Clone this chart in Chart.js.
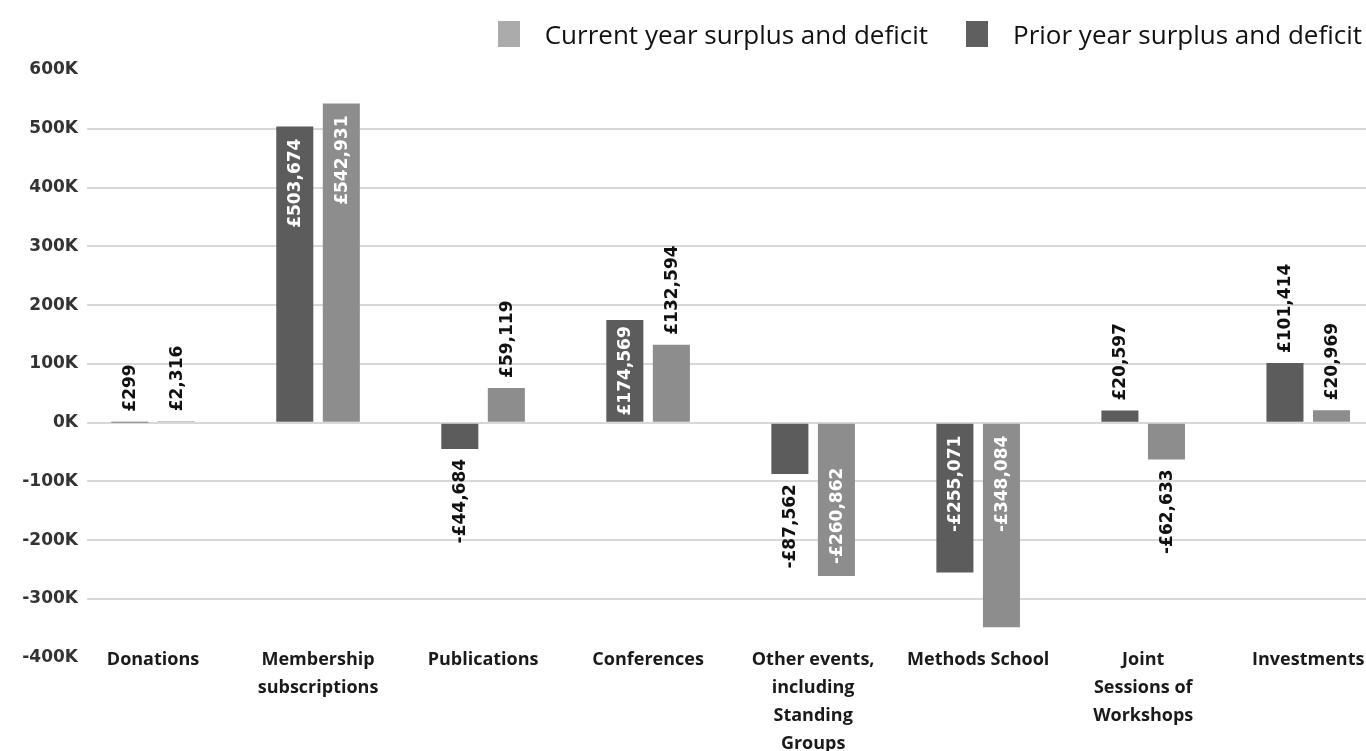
<!DOCTYPE html>
<html lang="en">
<head>
<meta charset="utf-8">
<title>Surplus and deficit by activity</title>
<script src="https://cdn.jsdelivr.net/npm/chart.js@4.4.1/dist/chart.umd.min.js"></script>
<style>
  html, body { margin: 0; padding: 0; background: #fff; overflow: hidden; }
  .wrap { position: relative; width: 1366px; height: 751px; overflow: hidden; }
  #legend {
    position: absolute; top: 16px; right: 4px; z-index: 2;
    display: flex; align-items: center;
    font-family: "Open Sans", sans-serif; font-size: 26px; color: #111;
  }
  #legend .item { display: flex; align-items: center; margin-left: 38px; }
  #legend .swatch { width: 22px; height: 26px; margin-right: 25px; }
  #chart { position: absolute; left: 0; top: 0; }
</style>
</head>
<body>
<div class="wrap">
  <div id="legend"></div>
  <canvas id="chart" width="1366" height="758"></canvas>
</div>

<script>
  // ---------- Data ----------
  const categories = [
    ["Donations"],
    ["Membership", "subscriptions"],
    ["Publications"],
    ["Conferences"],
    ["Other events,", "including", "Standing", "Groups"],
    ["Methods School"],
    ["Joint", "Sessions of", "Workshops"],
    ["Investments"],
  ];
  const priorYear   = [299, 503674, -44684, 174569, -87562, -255071, 20597, 101414];
  const currentYear = [2316, 542931, 59119, 132594, -260862, -348084, -62633, 20969];
  const yTickValues = [600000, 500000, 400000, 300000, 200000, 100000, 0, -100000, -200000, -300000, -400000];

  // ---------- Helpers ----------
  const fmtPounds = (v) => (v < 0 ? "-£" : "£") + Math.abs(v).toLocaleString("en-GB");
  const toPoints = (arr) => arr.map((y, x) => ({ x, y }));

  // labels inside these negative bars sit next to the zero line instead of the bar end
  const labelAtBase = ["Methods School"];

  const series = [
    { label: "Prior year surplus and deficit",   values: priorYear,   bar: "#5c5c5c", swatch: "#5f5f5f" },
    { label: "Current year surplus and deficit", values: currentYear, bar: "#8d8d8d", swatch: "#ababab" },
  ];

  // ---------- Rotated value labels ----------
  const barValueLabels = {
    id: "barValueLabels",
    afterDatasetsDraw(chart) {
      const { ctx } = chart;
      const inset = 12, fitMargin = 6, gap = 10;
      ctx.save();
      ctx.font = 'bold 17px "DejaVu Sans", sans-serif';
      ctx.textBaseline = "middle";
      ctx.textAlign = "left";

      chart.data.datasets.forEach((ds, di) => {
        const meta = chart.getDatasetMeta(di);
        meta.data.forEach((bar, i) => {
          const value = ds.data[i].y;
          const text = fmtPounds(value);
          const w = ctx.measureText(text).width;
          const top = Math.min(bar.y, bar.base);
          const bottom = Math.max(bar.y, bar.base);
          const len = bottom - top;
          let start; // screen y where the rotated text begins (its lower end)

          if (w + 2 * fitMargin <= len) {
            const pad = Math.min(inset, (len - w) / 2);
            ctx.fillStyle = "#ffffff";
            if (value < 0 && !labelAtBase.includes(categories[i].join(" "))) start = bottom - pad;
            else start = top + pad + w;
          } else {
            ctx.fillStyle = "#111111";
            start = value >= 0 ? top - gap : bottom + gap + w;
          }

          ctx.save();
          ctx.translate(bar.x, start);
          ctx.rotate(-Math.PI / 2);
          ctx.fillText(text, 0, 1);
          ctx.restore();
        });
      });
      ctx.restore();
    },
  };

  // ---------- Legend (current year first) ----------
  function buildLegend() {
    const el = document.getElementById("legend");
    series.slice().reverse().forEach((s) => {
      const item = document.createElement("div");
      item.className = "item";
      const sw = document.createElement("span");
      sw.className = "swatch";
      sw.style.background = s.swatch;
      const txt = document.createElement("span");
      txt.textContent = s.label;
      item.appendChild(sw);
      item.appendChild(txt);
      el.appendChild(item);
    });
  }

  // ---------- Chart ----------
  function buildChart() {
    const canvas = document.getElementById("chart");

    return new Chart(canvas.getContext("2d"), {
      type: "bar",
      data: {
        datasets: series.map((s) => ({
          label: s.label,
          data: toPoints(s.values),
          backgroundColor: s.bar,
          borderWidth: 0,
          categoryPercentage: 0.564,
          barPercentage: 0.796,
        })),
      },
      options: {
        responsive: false,
        animation: false,
        layout: { padding: { top: 70, left: 0, right: 0, bottom: 0 } },
        plugins: {
          legend: { display: false },
          tooltip: { enabled: false },
        },
        scales: {
          x: {
            type: "linear",
            offset: false,
            min: -0.4,
            max: 7.35,
            grid: { display: false, drawTicks: false, offset: false },
            border: { display: false },
            afterBuildTicks: (scale) => {
              scale.ticks = categories.map((_, i) => ({ value: i }));
            },
            ticks: {
              autoSkip: false,
              maxRotation: 0,
              minRotation: 0,
              includeBounds: false,
              padding: 0,
              color: "#1a1a1a",
              font: { family: '"Open Sans", sans-serif', size: 18, weight: "bold", lineHeight: "28px" },
              callback: (v) => categories[v] || "",
            },
          },
          y: {
            // bottom edge stops a little above -400K so the category labels sit level with that tick
            min: -380000,
            max: 600000,
            afterBuildTicks: (scale) => {
              scale.ticks = yTickValues.map((value) => ({ value }));
            },
            afterFit: (scale) => { scale.width = 87; },
            border: { display: false },
            grid: {
              drawTicks: false,
              lineWidth: 2,
              color: (c) => (c.tick && (c.tick.value === 600000 || c.tick.value === -400000)) ? "rgba(0,0,0,0)" : "#d8d8d8",
            },
            ticks: {
              padding: 9,
              color: "#333333",
              font: { family: '"DejaVu Sans", sans-serif', size: 17, weight: "bold" },
              callback: (v) => (v / 1000) + "K",
            },
          },
        },
      },
      plugins: [barValueLabels],
    });
  }

  buildLegend();
  buildChart();
</script>
</body>
</html>
